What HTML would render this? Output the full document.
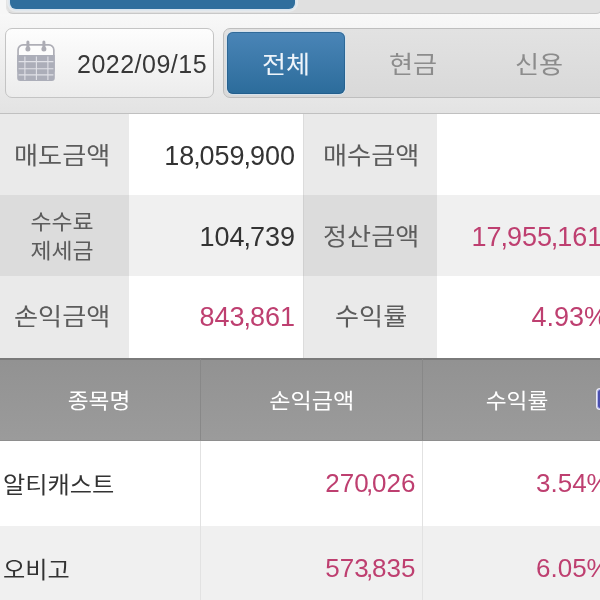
<!DOCTYPE html>
<html><head><meta charset="utf-8">
<style>
*{box-sizing:border-box;margin:0;padding:0}
html,body{width:600px;height:600px;overflow:hidden}
body{position:relative;background:#f7f7f7;-webkit-font-smoothing:antialiased;will-change:transform;font-family:"Liberation Sans","Noto Sans CJK KR",sans-serif;color:#333}
.abs{position:absolute}
.kr{font-family:"Noto Sans CJK KR","Liberation Sans",sans-serif}
.num{font-family:"Liberation Sans","Noto Sans CJK KR",sans-serif}
#bg{left:0;top:14px;width:600px;height:99px;background:linear-gradient(#f8f8f8,#e3e3e3)}
#topc{left:5.5px;top:-30px;width:597px;height:44px;border:1px solid #c8c8c8;border-top:0;border-left-color:#e4e4e4;border-right-color:#d8d8d8;border-radius:7px;background:#e0e0e0}
#topb{left:10px;top:-30px;width:285px;height:39.2px;border-radius:6px;background:#2f6e9d;box-shadow:0 0 0 1.5px #d8e4ee,0 0 0 3px #e8eaec}
#date{left:5px;top:28px;width:209px;height:70px;border:1px solid #c4c4c4;border-radius:7px;background:linear-gradient(#fdfdfd,#ececec)}
#datetxt{left:77px;top:45px;font-size:25px;line-height:38px;color:#383838;letter-spacing:0.5px}
#seg{left:223px;top:28px;width:400px;height:70px;border:1px solid #bebebe;border-radius:7px;background:linear-gradient(#e2e2e2,#d9d9d9)}
#segb{left:226.5px;top:32px;width:118.3px;height:61.5px;border-radius:6px;background:linear-gradient(#4a85b7,#2c6c9b);box-shadow:inset 0 0 0 1px rgba(30,85,130,.55),0 0 0 1px #d6e2ec}
.segt{top:44px;font-size:24px;line-height:38px;width:127px;text-align:center}
#hline{left:0;top:112.5px;width:600px;height:1.5px;background:#c0c0c0}
.cell{position:absolute;display:flex;align-items:center}
.lab{justify-content:center;color:#5c5c5c;font-size:24px;background:#eaeaea}
.val{justify-content:flex-end;font-size:27px;background:#fff;color:#333}
.pink{color:#be3f70}
.c{margin:0 -1.1px}
.r .c{margin:0 -1.2px 0 -2.6px}
.k{display:inline-block;transform:translateY(-1.2px) scaleX(1.09)}
.kl{transform-origin:0 50%;transform:translateY(-1px) scaleX(1.075)}
.th .k{transform:scaleX(1.08)}
.k.up{transform:translateY(-2.8px) scaleX(1.09)}
.segt .k{transform:scaleX(1.09)}
#thead{left:0;top:358px;width:600px;height:83px;background:linear-gradient(#929292,#9b9b9b);border-top:2px solid #7a7a7a;border-bottom:1px solid #8e8e8e}
.th{position:absolute;top:358px;height:82px;display:flex;align-items:center;justify-content:center;color:#fff;font-size:21px}
</style></head><body>
<div id="bg" class="abs"></div>
<div id="topc" class="abs"></div>
<div id="topb" class="abs"></div>

<div id="date" class="abs"></div>
<svg class="abs" style="left:16px;top:39px" width="42" height="44" viewBox="0 0 42 44">
  <rect x="2.05" y="5.9" width="35.8" height="30" rx="5" fill="#fcfcfc" stroke="#aeaeb6" stroke-width="1.7"/>
  <path d="M1.2 16 H38.8 V39.1 Q38.8 42.1 35.8 42.1 H4.2 Q1.2 42.1 1.2 39.1 Z" fill="#acaeb9"/>
  <g stroke="#e0e1e7" stroke-width="1.1">
    <line x1="8.9" y1="17.5" x2="8.9" y2="41"/>
    <line x1="20.4" y1="17.5" x2="20.4" y2="41"/>
    <line x1="31.9" y1="17.5" x2="31.9" y2="41"/>
    <line x1="2.6" y1="22.6" x2="37.4" y2="22.6"/>
    <line x1="2.6" y1="29.8" x2="37.4" y2="29.8"/>
    <line x1="2.6" y1="35.9" x2="37.4" y2="35.9"/>
  </g>
  <g fill="#acacb4">
    <rect x="10.4" y="1.4" width="3" height="9" rx="1.5"/>
    <circle cx="11.9" cy="10.1" r="2.5"/>
    <rect x="26.4" y="1.4" width="3" height="9" rx="1.5"/>
    <circle cx="27.9" cy="10.1" r="2.5"/>
  </g>
</svg>
<div id="datetxt" class="abs num">2022/09/15</div>

<div id="seg" class="abs"></div>
<div id="segb" class="abs"></div>
<div class="abs kr segt" style="left:222.5px;color:#eef4fa"><span class="k">전체</span></div>
<div class="abs kr segt" style="left:349.5px;color:#8c8c8c"><span class="k">현금</span></div>
<div class="abs kr segt" style="left:476px;color:#8c8c8c"><span class="k">신용</span></div>

<div id="hline" class="abs"></div>

<!-- summary table -->
<div class="cell lab kr" style="padding-right:4px;left:0;top:114px;width:128.5px;height:81px"><span class="k">매도금액</span></div>
<div class="cell val num" style="left:128.5px;top:114px;padding-top:3px;width:174.5px;height:81px;padding-right:8px">18<span class="c">,</span>059<span class="c">,</span>900</div>
<div class="cell lab kr" style="padding-left:2px;left:303px;top:114px;width:134px;height:81px;border-left:1px solid #dcdcdc"><span class="k">매수금액</span></div>
<div class="cell val num" style="left:437px;top:114px;padding-top:3px;width:163px;height:81px"></div>

<div class="cell lab kr" style="padding-right:4px;left:0;top:195px;width:128.5px;height:81px;background:#dcdcdc;font-size:21px;line-height:28.2px;text-align:center"><span class="k">수수료<br>제세금</span></div>
<div class="cell val num" style="left:128.5px;top:195px;padding-top:3px;width:174.5px;height:81px;padding-right:8px;background:#f0f0f0">104<span class="c">,</span>739</div>
<div class="cell lab kr" style="padding-left:2px;left:303px;top:195px;width:134px;height:81px;background:#dcdcdc;border-left:1px solid #d0d0d0"><span class="k">정산금액</span></div>
<div class="cell val num pink" style="left:437px;top:195px;padding-top:3px;width:200px;height:81px;background:#f0f0f0;justify-content:flex-start;padding-left:34.5px">17<span class="c">,</span>955<span class="c">,</span>161</div>

<div class="cell lab kr" style="padding-right:4px;left:0;top:276px;width:128.5px;height:82px"><span class="k up">손익금액</span></div>
<div class="cell val num pink" style="left:128.5px;top:276px;width:174.5px;height:82px;padding-right:8px">843<span class="c">,</span>861</div>
<div class="cell lab kr" style="padding-left:2px;left:303px;top:276px;width:134px;height:82px;border-left:1px solid #dcdcdc"><span class="k up">수익률</span></div>
<div class="cell val num pink" style="left:437px;top:276px;width:200px;height:82px;justify-content:flex-start;padding-left:94.5px">4.93%</div>

<!-- list header -->
<div id="thead" class="abs"></div>
<div class="abs" style="left:199.5px;top:359px;width:1px;height:81px;background:#888"></div>
<div class="abs" style="left:421.5px;top:359px;width:1px;height:81px;background:#888"></div>
<div class="th kr" style="left:-1.2px;width:200px"><span class="k">종목명</span></div>
<div class="th kr" style="left:200.5px;width:222px"><span class="k" style="transform:scaleX(1.1)">손익금액</span></div>
<div class="th kr" style="left:421.3px;width:192px"><span class="k">수익률</span></div>
<div class="abs" style="left:596.5px;top:388.5px;width:10px;height:20.5px;border-radius:3px;background:#4a4fae;border:1.5px solid #b4b8ee;box-shadow:0 0 0 1px #ececf4"></div>

<!-- rows -->
<div class="abs" style="left:0;top:441px;width:600px;height:85px;background:#fff"></div>
<div class="abs" style="left:0;top:526px;width:600px;height:74px;background:#f0f0f0"></div>
<div class="abs" style="left:199.5px;top:441px;width:1px;height:159px;background:#e2e2e2"></div>
<div class="abs" style="left:421.5px;top:441px;width:1px;height:159px;background:#e2e2e2"></div>

<div class="cell kr" style="left:3px;top:441px;height:85px;font-size:22.5px;color:#333"><span class="k kl">알티캐스트</span></div>
<div class="cell num pink r" style="left:200px;top:441px;width:215.5px;height:85px;justify-content:flex-end;font-size:26px">270<span class="c">,</span>026</div>
<div class="cell num pink" style="left:536px;top:441px;height:85px;font-size:26px">3.54%</div>

<div class="cell kr" style="left:3px;top:526px;height:85px;font-size:22.5px;color:#333"><span class="k kl">오비고</span></div>
<div class="cell num pink r" style="left:200px;top:526px;width:215.5px;height:85px;justify-content:flex-end;font-size:26px">573<span class="c">,</span>835</div>
<div class="cell num pink" style="left:536px;top:526px;height:85px;font-size:26px">6.05%</div>
</body></html>
